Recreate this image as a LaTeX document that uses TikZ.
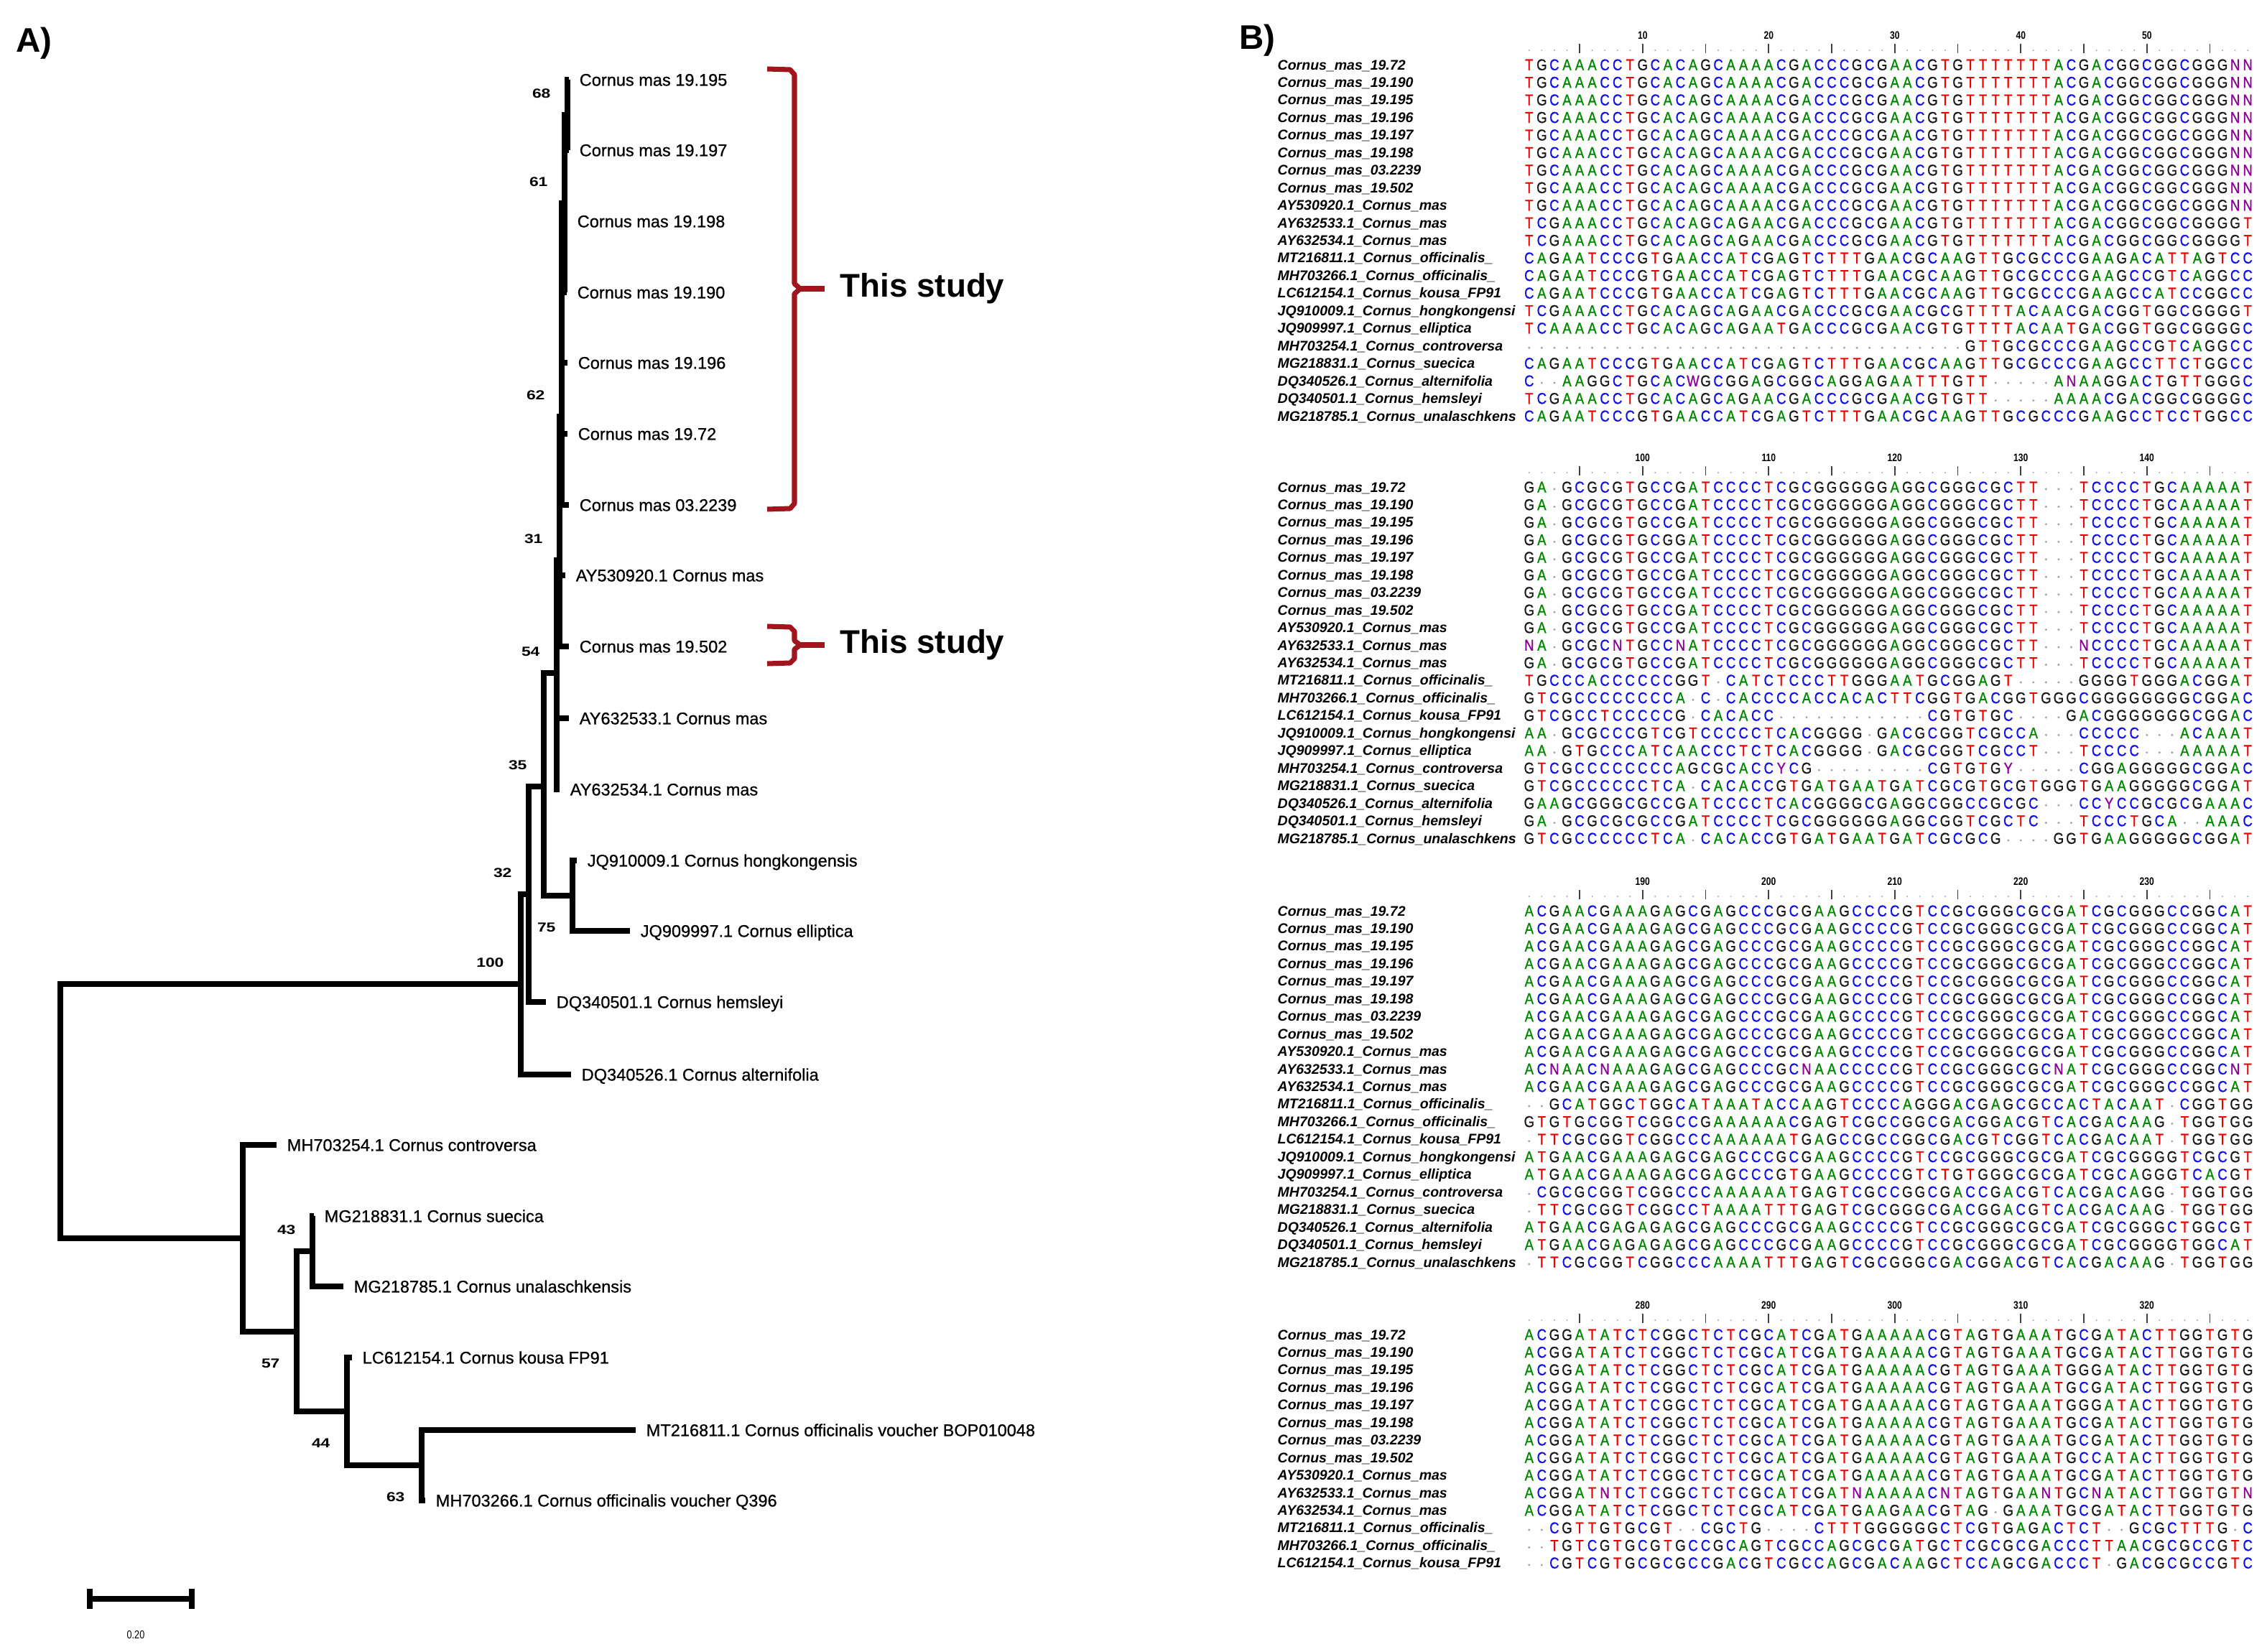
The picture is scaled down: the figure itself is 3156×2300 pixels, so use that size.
\documentclass[tikz,border=0pt]{standalone}
\usepackage{fontspec}
\setmainfont{Liberation Sans}
\newfontfamily\bootfont{Liberation Sans}[FakeStretch=1.25]
\newfontfamily\rulefont{Liberation Sans}[FakeStretch=0.8]
\newfontfamily\seqfont{Liberation Sans}[FakeStretch=0.85,FakeBold=1]
\newfontfamily\taxfont{Liberation Sans}[FakeBold=0.8]
\usetikzlibrary{positioning}

\definecolor{seqA}{RGB}{0,135,0}
\definecolor{seqC}{RGB}{15,15,230}
\definecolor{seqG}{RGB}{25,25,25}
\definecolor{seqT}{RGB}{235,0,0}
\definecolor{seqN}{RGB}{140,0,150}
\colorlet{seqW}{seqN}
\colorlet{seqY}{seqN}
\definecolor{brk}{RGB}{160,22,28}
\definecolor{gapgray}{RGB}{165,165,165}

% one row of the alignment, one letter per column
\newcount\seqcol
\newcommand\seqrow[2]{\pgfmathsetmacro\seqy{#1}\global\seqcol=0\relax
  \edef\seqtmp{#2}\expandafter\seqparse\seqtmp\relax}
\def\seqparse#1{\ifx#1\relax\else\seqbase{#1}\global\advance\seqcol by1\relax
  \expandafter\seqparse\fi}
\def\seqbase#1{\if#1-\fill[gapgray] ({2128.8+17.55*\the\seqcol},\seqy+3) circle[radius=1.7];%
  \else\node[nuc,text=seq#1] at ({2128.8+17.55*\the\seqcol},\seqy) {#1};\fi}
\newcommand\alblock[2]{\foreach \seq [count=\r from 0] in #2 {\seqrow{#1+24.45*\r}{\seq}}}

\def\alnames{Cornus\_mas\_19.72,Cornus\_mas\_19.190,Cornus\_mas\_19.195,Cornus\_mas\_19.196,
 Cornus\_mas\_19.197,Cornus\_mas\_19.198,Cornus\_mas\_03.2239,Cornus\_mas\_19.502,
 AY530920.1\_Cornus\_mas,AY632533.1\_Cornus\_mas,AY632534.1\_Cornus\_mas,
 MT216811.1\_Cornus\_officinalis\_,MH703266.1\_Cornus\_officinalis\_,LC612154.1\_Cornus\_kousa\_FP91,
 JQ910009.1\_Cornus\_hongkongensi,JQ909997.1\_Cornus\_elliptica,MH703254.1\_Cornus\_controversa,
 MG218831.1\_Cornus\_suecica,DQ340526.1\_Cornus\_alternifolia,DQ340501.1\_Cornus\_hemsleyi,
 MG218785.1\_Cornus\_unalaschkens}

\def\rA{TGCAAACCTGCACAGCAAAACGACCCGCGAACGTGTTTTTTTACGACGGCGGCGGGNN}
\def\rB{TCGAAACCTGCACAGCAGAACGACCCGCGAACGTGTTTTTTTACGACGGCGGCGGGGT}
\def\blockA{\rA,\rA,\rA,\rA,\rA,\rA,\rA,\rA,\rA,\rB,\rB,
 CAGAATCCCGTGAACCATCGAGTCTTTGAACGCAAGTTGCGCCCGAAGACATTAGTCC,
 CAGAATCCCGTGAACCATCGAGTCTTTGAACGCAAGTTGCGCCCGAAGCCGTCAGGCC,
 CAGAATCCCGTGAACCATCGAGTCTTTGAACGCAAGTTGCGCCCGAAGCCATCCGGCC,
 TCGAAACCTGCACAGCAGAACGACCCGCGAACGCGTTTTACAACGACGGTGGCGGGGT,
 TCAAAACCTGCACAGCAGAATGACCCGCGAACGTGTTTTACAATGACGGTGGCGGGGC,
 -----------------------------------GTTGCGCCCGAAGCCGTCAGGCC,
 CAGAATCCCGTGAACCATCGAGTCTTTGAACGCAAGTTGCGCCCGAAGCCTTCTGGCC,
 C--AAGGCTGCACWGCGGAGCGGCAGGAGAATTTGTT-----ANAAGGACTGTTGGGC,
 TCGAAACCTGCACAGCAGAACGACCCGCGAACGTGTT-----AAAACGACGGCGGGGC,
 CAGAATCCCGTGAACCATCGAGTCTTTGAACGCAAGTTGCGCCCGAAGCCTCCTGGCC}
\def\rC{GA-GCGCGTGCCGATCCCCTCGCGGGGGGAGGCGGGCGCTT---TCCCCTGCAAAAAT}
\def\blockB{\rC,\rC,\rC,GA-GCGCGTGCGGATCCCCTCGCGGGGGGAGGCGGGCGCTT---TCCCCTGCAAAAAT,\rC,\rC,\rC,\rC,\rC,
 NA-GCGCNTGCCNATCCCCTCGCGGGGGGAGGCGGGCGCTT---NCCCCTGCAAAAAT,\rC,
 TGCCCACCCCCCGGT-CATCTCCCTTGGGAATGCGGAGT-----GGGGTGGGACGGAT,
 GTCGCCCCCCCCA-C-CACCCCACCACACTTCGGTGACGGTGGGCGGGGGGGGCGGAC,
 GTCGCCTCCCCCG-CACACC------------CGTGTGC----GACGGGGGGGCGGAC,
 AA-GCGCCCGTCGTCCCCCTCACGGGG-GACGCGGTCGCCA---CCCCC---ACAAAT,
 AA-GTGCCCATCAACCCTCTCACGGGG-GACGCGGTCGCCT---TCCCC---AAAAAT,
 GTCGCCCCCCCCAGCGCACCYCG---------CGTGTGY-----CGGAGGGGGCGGAC,
 GTCGCCCCCCTCA-CACACCGTGATGAATGATCGCGTGCGTGGGTGAAGGGGGCGGAT,
 GAAGCGGGCGCCGATCCCCTCACGGGGCGAGGCGGCCGCGC---CCYCCGCGCGAAAC,
 GA-GCGCGCGCCGATCCCCTCGCGGGGGGAGGCGGTCGCTC---TCCCTGCA--AAAC,
 GTCGCCCCCCTCA-CACACCGTGATGAATGATCGCGCG----GGTGAAGGGGGCGGAT}
\def\rD{ACGAACGAAAGAGCGAGCCCGCGAAGCCCCGTCCGCGGGCGCGATCGCGGGCCGGCAT}
\def\blockC{\rD,\rD,\rD,\rD,\rD,\rD,\rD,\rD,\rD,
 ACNAACNAAAGAGCGAGCCCGCNAACCCCCGTCCGCGGGCGCNATCGCGGGCCGGCNT,\rD,
 --GCATGGCTGGCATAAATACCAAGTCCCCAGGGACGAGCGCCACTACAAT-CGGTGG,
 GTGTGCGGTCGGCCGAAAAAACGAGTCGCCGGCGACGGACGTCACGACAAG-TGGTGG,
 -TTCGCGGTCGGCCCAAAAAATGAGCCGCCGGCGACGTCGGTCACGACAAT-TGGTGG,
 ATGAACGAAAGAGCGAGCCCGCGAAGCCCCGTCCGCGGGCGCGATCGCGGGGTCGCGT,
 ATGAACGAAAGAGCGAGCCCGTGAAGCCCCGTCTGTGGGCGCGATCGCAGGGTCACGT,
 -CGCGCGGTCGGCCCAAAAAATGAGTCGCCGGCGACCGACGTCACGACAGG-TGGTGG,
 -TTCGCGGTCGGCCTAAAATTTGAGTCGCGGGCGACGGACGTCACGACAAG-TGGTGG,
 ATGAACGAGAGAGCGAGCCCGCGAAGCCCCGTCCGCGGGCGCGATCGCGGGCTGGCGT,
 ATGAACGAGAGAGCGAGCCCGCGAAGCCCCGTCCGCGGGCGCGATCGCGGGGTGGCAT,
 -TTCGCGGTCGGCCCAAAATTTGAGTCGCGGGCGACGGACGTCACGACAAG-TGGTGG}
\def\rE{ACGGATATCTCGGCTCTCGCATCGATGAAAAACGTAGTGAAATGCGATACTTGGTGTG}
\def\rF{ACGGATATCTCGGCTCTCGCATCGATGAAAAACGTAGTGAAATGGGATACTTGGTGTG}
\def\blockD{\rE,\rE,\rF,\rE,\rF,\rE,\rE,
 ACGGATATCTCGGCTCTCGCATCGATGAAAAACGTAGTGAAATGCCATACTTGGTGTG,\rE,
 ACGGATNTCTCGGCTCTCGCATCGATNAAAAACNTAGTGAANTGCNATACTTGGTGTN,
 ACGGATATCTCGGCTCTCGCATCGATGAAGAACGTAG-GAAATGCGATACTTGGTGTG,
 --CGTTGTGCGT--CGCTG----CTTTGGGGGGCTCGTGAGACTCT--GCGCTTTG-C,
 --TGTCGTGCGTGCCGCAGTCGCCAGCGCGATGCTCGCGCGACCCTTAACGCGCCGTC,
 --CGTCGTGCGCGCCGACGTCGCCAGCGACAAGCTCCAGCGACCCT-GACGCGCCGTC}

\begin{document}
\begin{tikzpicture}[x=0.01cm,y=-0.01cm,
  branch/.style={line width=2pt},
  taxon/.style={font=\taxfont\fontsize{6.7}{8}\selectfont,inner sep=0pt,text height=4.8pt,text depth=0pt},
  boot/.style={font=\bootfont\fontsize{5.2}{6}\selectfont\bfseries,inner sep=0pt,anchor=east,xshift=-6.5pt},
  bootup/.style={boot,yshift=8.5pt},
  bootdn/.style={boot,yshift=-12.5pt},
  bracket/.style={brk,line width=2pt,line join=round},
  study/.style={font=\fontsize{13}{15}\selectfont\bfseries,inner sep=0pt},
  panel/.style={font=\fontsize{13.5}{16}\selectfont\bfseries,inner sep=0pt,anchor=west},
  alname/.style={font=\fontsize{5.55}{6}\selectfont\bfseries\itshape,inner sep=0pt,anchor=west,text height=4pt,text depth=0pt},
  nuc/.style={font=\seqfont\fontsize{6.2}{7}\selectfont,inner sep=0pt,text height=4.4pt,text depth=0pt},
  rulenum/.style={font=\rulefont\fontsize{4.3}{5}\selectfont\bfseries,inner sep=0pt},
  ticks/.style={line width=0.5pt,black!75}]
\useasboundingbox (0,0) rectangle (3156,2300);
\node[panel] (pA) at (22,60) {A)};
\node[panel] (pB) at (1725,56) {B)};

% tree: leaves
\foreach \id/\x/\y/\txt in {m195/792/111/Cornus mas 19.195, m197/792/209/Cornus mas 19.197,
  m198/789/308/Cornus mas 19.198, m190/789/407/Cornus mas 19.190, m196/790/505/Cornus mas 19.196,
  m72/790/604/Cornus mas 19.72, m2239/792/703/Cornus mas 03.2239, ay530920/787/801/AY530920.1 Cornus mas,
  m502/792/900/Cornus mas 19.502, ay632533/792/1000/AY632533.1 Cornus mas, ay632534/779/1099/AY632534.1 Cornus mas,
  jq910009/803/1198/JQ910009.1 Cornus hongkongensis, jq909997/877/1296/JQ909997.1 Cornus elliptica,
  dq340501/760/1395/DQ340501.1 Cornus hemsleyi, dq340526/795/1496/DQ340526.1 Cornus alternifolia,
  mh703254/385/1594/MH703254.1 Cornus controversa, mg218831/437/1693/MG218831.1 Cornus suecica,
  mg218785/478/1791/MG218785.1 Cornus unalaschkensis, lc612154/490/1890/LC612154.1 Cornus kousa FP91,
  mt216811/885/1991/MT216811.1 Cornus officinalis voucher BOP010048,
  mh703266/592/2089/MH703266.1 Cornus officinalis voucher Q396}
  {\coordinate (\id) at (\x,\y); \node[taxon,right=4pt of \id] (lab\id) {\txt};}

% tree: inner nodes
\foreach \id/\x/\y in {root/84/1547, n100/725/1370, n32/736/1245, n35/757/1095, n75/797/1247,
  n54/775/937, n31/779/780, n62/782/580, n61/786/283, n68/790/160,
  nlow/338/1724, n57/413/1854, n43/435/1742, n44/483/1965, n63/587/2040}
  \coordinate (\id) at (\x,\y);

\foreach \a/\b in {root/n100, root/nlow, n100/n32, n100/dq340526, n32/n35, n32/dq340501,
  n35/n54, n35/n75, n75/jq910009, n75/jq909997, n54/n31, n54/ay632533, n54/ay632534,
  n31/n62, n31/ay530920, n31/m502, n62/n61, n62/m196, n62/m72, n62/m2239,
  n61/n68, n61/m198, n61/m190, n68/m195, n68/m197,
  nlow/mh703254, nlow/n57, n57/n43, n57/n44, n43/mg218831, n43/mg218785,
  n44/lc612154, n44/n63, n63/mt216811, n63/mh703266}
  \draw[branch] (\a) |- (\b);

% bootstrap values
\foreach \n/\v in {n68/68, n61/61, n62/62, n31/31, n54/54, n35/35, n32/32, n100/100, n43/43}
  \node[bootup] (b\n) at (\n) {\v};
\foreach \n/\v in {n75/75, n57/57, n44/44, n63/63}
  \node[bootdn] (b\n) at (\n) {\v};

% scale bar
\coordinate (sb0) at (125,2226);
\coordinate (sb1) at (267,2226);
\draw[branch] (sb0) -- (sb1);
\draw[branch] ([yshift=4pt]sb0) -- ([yshift=-4pt]sb0);
\draw[branch] ([yshift=4pt]sb1) -- ([yshift=-4pt]sb1);
\node[font=\rulefont\fontsize{4.5}{5}\selectfont,inner sep=0pt] (sblab) at (189,2276) {0.20};

% brackets
\coordinate (br1top) at (1068,96);
\coordinate (br1bot) at (1068,709);
\coordinate (br1tip) at (1148,402);
\draw[bracket] (br1top) -- (1100,97) -- (1106,104) -- (1106,395) -- (1114,402) -- (1106,409)
  -- (1106,701) -- (1100,708) -- (br1bot);
\draw[bracket] (1114,402) -- (br1tip);
\node[study,right=6pt of br1tip] (st1) {This study};
\coordinate (br2top) at (1068,872);
\coordinate (br2bot) at (1068,924);
\coordinate (br2tip) at (1148,898);
\draw[bracket] (br2top) -- (1100,873) -- (1106,879) -- (1106,892) -- (1114,898) -- (1106,904)
  -- (1106,917) -- (1100,923) -- (br2bot);
\draw[bracket] (1114,898) -- (br2tip);
\node[study,right=6pt of br2tip] (st2) {This study};

% alignment: names and rulers
\foreach \y/\nrow/\off in {90/21/0, 678/21/90, 1268/21/180, 1858/14/270}{
  \foreach \nm [count=\r from 0] in \alnames
    {\ifnum\r<\nrow\relax\node[alname] (nm-\off-\r) at (1778,\y+24.45*\r) {\nm};\fi}
  \foreach \c in {1,...,58}{\ifnum\numexpr(\c/5)*5\relax=\c\relax
      \draw[ticks] ({2128.8+17.55*(\c-1)},\y-29) -- ++(0,13);
    \else\fill[gapgray] ({2128.8+17.55*(\c-1)},\y-20) circle[radius=1.1];\fi}
  \foreach \c in {10,20,...,50}
    \node[rulenum] (rn-\off-\c) at ({2128.8+17.55*(\c-1)},\y-41) {\the\numexpr\off+\c\relax};
}

% alignment: sequences
\alblock{90}{\blockA}
\alblock{678}{\blockB}
\alblock{1268}{\blockC}
\alblock{1858}{\blockD}
\end{tikzpicture}
\end{document}
